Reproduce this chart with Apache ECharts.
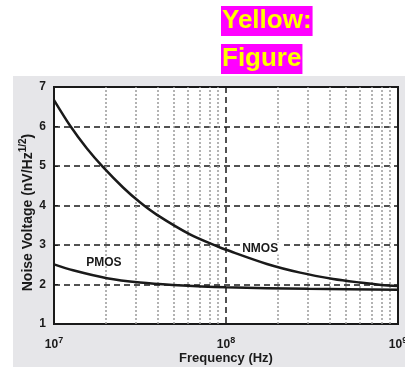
<!DOCTYPE html>
<html>
<head>
<meta charset="utf-8">
<script src="https://cdn.jsdelivr.net/npm/echarts@6/dist/echarts.min.js"></script>
<style>
  html, body { margin: 0; padding: 0; background: #fff; }
  #chart { width: 405px; height: 367px; }
</style>
</head>
<body>
<div id="chart"></div>
<script>
// values
var nmosFreq = [1e7, 1.25e7, 1.55e7, 1.93e7, 2.53e7, 3.16e7, 3.95e7, 6.17e7, 8.97e7, 1e8, 1.73e8, 2.7e8, 4.2e8, 6e8, 8e8, 1e9];
var nmosVolt = [6.67, 6.0, 5.45, 4.97, 4.45, 4.08, 3.77, 3.27, 2.96, 2.88, 2.52, 2.3, 2.14, 2.05, 1.99, 1.96];
var pmosFreq = [1e7, 1.29e7, 2.03e7, 3.16e7, 4.9e7, 1e8, 3e8, 1e9];
var pmosVolt = [2.51, 2.36, 2.16, 2.05, 1.99, 1.93, 1.89, 1.87];
var minorFreqs = [2e7, 3e7, 4e7, 5e7, 6e7, 7e7, 8e7, 9e7, 2e8, 3e8, 4e8, 5e8, 6e8, 7e8, 8e8, 9e8];
var yTicks = [1, 2, 3, 4, 5, 6, 7];

function pairs(xs, ys) {
  return xs.map(function (x, i) { return [x, ys[i]]; });
}

var chart = echarts.init(document.getElementById('chart'));
var ink = '#1a1a1a';
var font = 'Liberation Sans, Arial, sans-serif';

chart.setOption({
  animation: false,
  backgroundColor: '#fff',
  textStyle: { fontFamily: font },
  graphic: [
    { type: 'rect', z: -10, shape: { x: 13, y: 76, width: 392, height: 291 }, style: { fill: '#e6e6e9' } },
    { type: 'text', left: 221, top: 6, style: { text: 'Yellow:', fill: '#ffff00', backgroundColor: '#ff00ff', font: 'bold 26px ' + font, padding: [2, 1, 2, 1] } },
    { type: 'text', left: 221, top: 44, style: { text: 'Figure', fill: '#ffff00', backgroundColor: '#ff00ff', font: 'bold 26px ' + font, padding: [2, 1, 2, 1] } }
  ],
  grid: {
    left: 54, right: 7, top: 87, bottom: 43,
    outerBoundsMode: 'none', containLabel: false,
    show: true, backgroundColor: '#fff', borderColor: ink, borderWidth: 2
  },
  xAxis: {
    type: 'log', logBase: 10, min: 1e7, max: 1e9,
    name: 'Frequency (Hz)', nameLocation: 'middle', nameGap: 28, nameMoveOverlap: false,
    nameTextStyle: { color: ink, fontSize: 13, fontWeight: 'bold' },
    axisLine: { show: true, lineStyle: { color: ink, width: 2 } },
    axisTick: { show: false },
    splitLine: { show: true, lineStyle: { color: ink, type: [6, 4], width: 1.5 } },
    axisLabel: {
      margin: 12,
      formatter: function (v) { return '{b|10}{s|' + Math.round(Math.log10(v)) + '}'; },
      rich: {
        b: { fontSize: 12, fontWeight: 'bold', color: ink },
        s: { fontSize: 9, fontWeight: 'bold', color: ink, verticalAlign: 'bottom', padding: [0, 0, 9, 0] }
      }
    }
  },
  yAxis: {
    type: 'value', min: yTicks[0], max: yTicks[yTicks.length - 1], interval: 1,
    name: '{a|Noise Voltage (nV/Hz}{s|1/2}{a|)}', nameLocation: 'middle', nameGap: 16, nameMoveOverlap: false,
    nameTextStyle: {
      padding: [0, 14, 0, 0],
      rich: {
        a: { fontSize: 14, fontWeight: 'bold', color: ink },
        s: { fontSize: 10, fontWeight: 'bold', color: ink, verticalAlign: 'bottom', padding: [0, 0, 10, 0] }
      }
    },
    axisLine: { show: true, lineStyle: { color: ink, width: 2 } },
    axisTick: { show: true, inside: true, length: 4, lineStyle: { color: ink } },
    splitLine: { show: true, lineStyle: { color: ink, type: [6, 4], width: 1.5 } },
    axisLabel: { margin: 8, fontSize: 12, fontWeight: 'bold', color: ink }
  },
  series: [
    {
      name: 'NMOS', type: 'line', smooth: 0.3, showSymbol: false, z: 5,
      data: pairs(nmosFreq, nmosVolt),
      lineStyle: { color: ink, width: 2.5 },
      markLine: {
        silent: true, symbol: 'none', label: { show: false }, z: 1,
        lineStyle: { color: '#9a9a9a', type: [2, 2], width: 1.5 },
        data: minorFreqs.map(function (f) { return { xAxis: f }; })
      }
    },
    {
      name: 'PMOS', type: 'line', smooth: 0.3, showSymbol: false, z: 5,
      data: pairs(pmosFreq, pmosVolt),
      lineStyle: { color: ink, width: 2.5 },
      markPoint: {
        symbol: 'rect', symbolSize: 1, itemStyle: { color: 'transparent' },
        data: [
          { coord: [1.95e7, 2.55], label: { show: true, position: 'inside', formatter: 'PMOS', fontSize: 12, fontWeight: 'bold', color: ink } },
          { coord: [1.58e8, 2.91], label: { show: true, position: 'inside', formatter: 'NMOS', fontSize: 12, fontWeight: 'bold', color: ink, backgroundColor: '#fff', padding: [0, 2] } }
        ]
      }
    }
  ]
});
</script>
</body>
</html>
